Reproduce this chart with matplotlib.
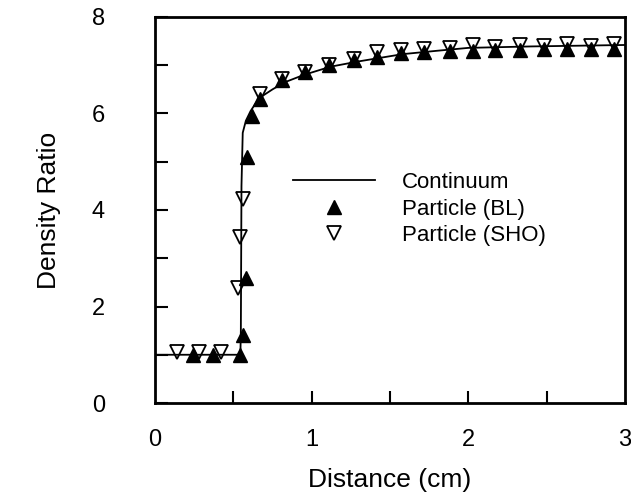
import matplotlib
matplotlib.use("Agg")
import matplotlib.pyplot as plt
from matplotlib.lines import Line2D

plt.rcParams["font.family"] = ["Liberation Sans", "DejaVu Sans"]

# continuum solution: flat upstream, sharp jump near 0.55 cm, slow relaxation
cont_x = [0.0, 0.545, 0.548, 0.552, 0.56, 0.58, 0.61, 0.64, 0.67, 0.75, 0.83,
          0.95, 1.12, 1.30, 1.58, 1.80, 2.00, 2.40, 3.00]
cont_y = [1.0, 1.0, 1.5, 4.5, 5.6, 5.85, 6.05, 6.2, 6.33, 6.5, 6.65,
          6.8, 6.97, 7.08, 7.23, 7.30, 7.36, 7.39, 7.42]

# particle results, BL model
bl_x = [0.24, 0.37, 0.545, 0.56, 0.58, 0.59, 0.62, 0.67, 0.81, 0.96, 1.11,
        1.27, 1.42, 1.57, 1.72, 1.88, 2.03, 2.17, 2.33, 2.48, 2.63, 2.78, 2.93]
bl_y = [1.0, 1.0, 1.0, 1.4, 2.6, 5.1, 5.95, 6.3, 6.7, 6.85, 7.0,
        7.1, 7.18, 7.25, 7.27, 7.3, 7.3, 7.32, 7.32, 7.33, 7.33, 7.33, 7.33]

# particle results, SHO model
sho_x = [0.14, 0.28, 0.42, 0.53, 0.545, 0.56, 0.67, 0.81, 0.96, 1.11,
         1.27, 1.42, 1.57, 1.72, 1.88, 2.03, 2.17, 2.33, 2.48, 2.63, 2.78, 2.93]
sho_y = [1.05, 1.05, 1.05, 2.38, 3.45, 4.22, 6.4, 6.72, 6.87, 7.0,
         7.12, 7.27, 7.32, 7.33, 7.36, 7.42, 7.38, 7.43, 7.39, 7.44, 7.4, 7.44]

x_labels = ["0", "1", "2", "3"]
y_labels = ["0", "", "2", "", "4", "", "6", "", "8"]

fig = plt.figure(figsize=(6.31, 4.94), dpi=100)
ax = fig.add_axes([155 / 631, 91 / 494, 470 / 631, 386 / 494])

ax.plot(cont_x, cont_y, color="black", lw=1.3, zorder=2)
ax.plot(bl_x, bl_y, ls="none", marker="^", ms=10.5, color="black", zorder=3)
ax.plot(sho_x, sho_y, ls="none", marker="v", ms=10.5, mfc="none", mec="black",
        mew=1.3, zorder=4)

ax.set_xlim(0, 3)
ax.set_ylim(0, 8)
# inward ticks every 0.5 cm, labels only on whole centimetres
ax.xaxis.remove_overlapping_locs = False
ax.set_xticks([0.5, 1, 1.5, 2, 2.5])
ax.set_xticks([0, 1, 2, 3], minor=True)
ax.set_xticklabels(x_labels, minor=True)
ax.set_yticks(range(0, 9))
ax.set_yticklabels(y_labels)
ax.tick_params(axis="both", which="major", direction="in", length=9, width=1.5,
               labelsize=17)
ax.tick_params(axis="x", which="major", labelbottom=False)
ax.tick_params(axis="x", which="minor", length=0, labelsize=17, pad=19)
ax.tick_params(axis="y", pad=36)
for s in ax.spines.values():
    s.set_linewidth(2)

ax.set_xlabel("Distance (cm)", fontsize=19, labelpad=12)
ax.set_ylabel("Density Ratio", fontsize=19, labelpad=22)

handles = [
    Line2D([], [], color="black", lw=1.3),
    Line2D([], [], ls="none", marker="^", ms=10.5, color="black"),
    Line2D([], [], ls="none", marker="v", ms=10.5, mfc="none", mec="black", mew=1.3),
]
ax.legend(handles, ["Continuum", "Particle (BL)", "Particle (SHO)"],
          loc="upper left", bbox_to_anchor=(293 / 631, 1 - 172 / 494),
          bbox_transform=fig.transFigure, frameon=False, fontsize=16,
          handlelength=3.7, handletextpad=1.2, labelspacing=0.25,
          borderpad=0, borderaxespad=0, numpoints=1)

fig.savefig("out.png", dpi=100)
